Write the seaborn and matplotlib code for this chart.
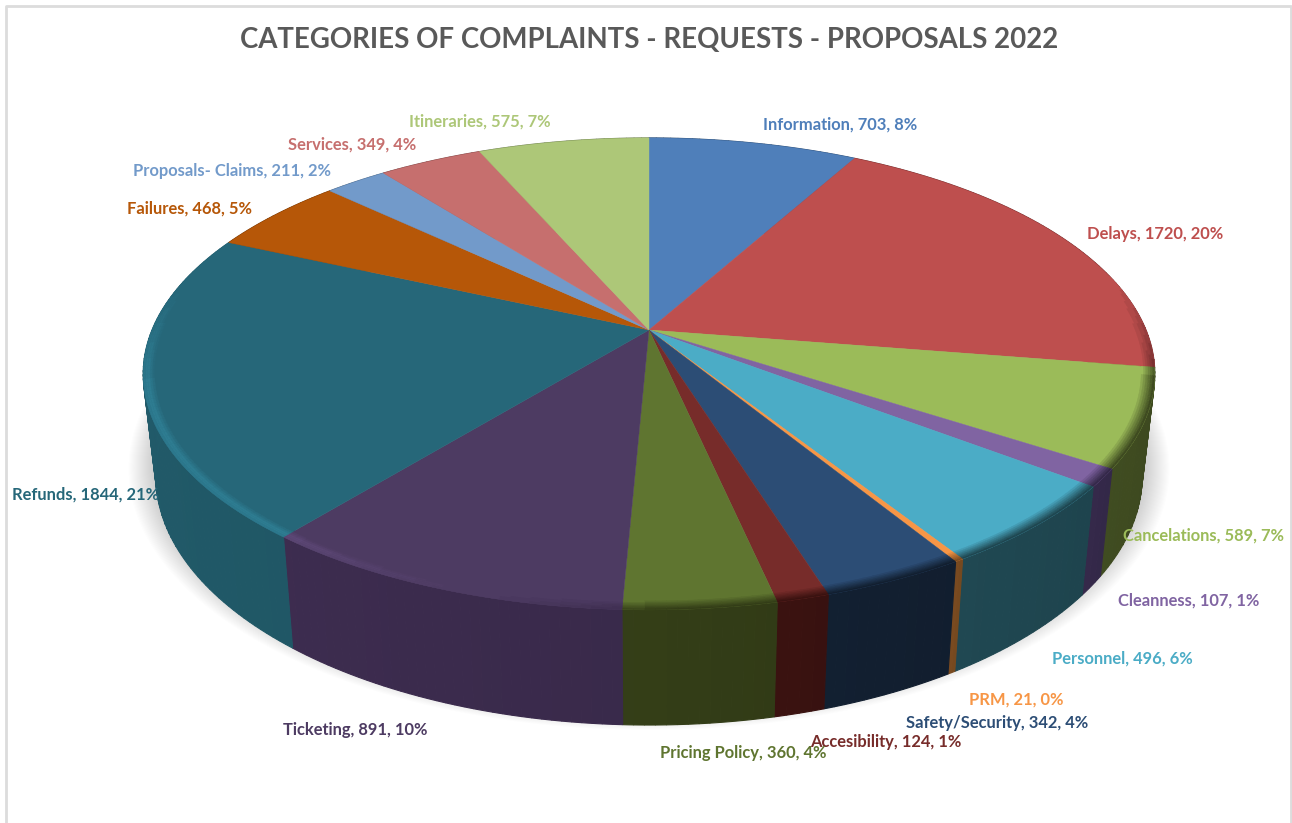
import numpy as np
import matplotlib
matplotlib.use('Agg')
import matplotlib.pyplot as plt
import seaborn as sns

categories = ['Information', 'Delays', 'Cancelations', 'Cleanness', 'Personnel', 'PRM',
              'Safety/Security', 'Accesibility', 'Pricing Policy', 'Ticketing', 'Refunds',
              'Failures', 'Proposals- Claims', 'Services', 'Itineraries']
values = [703, 1720, 589, 107, 496, 21, 342, 124, 360, 891, 1844, 468, 211, 349, 575]
top_colors = ['#4f7fba', '#be4f4e', '#9bbb59', '#8064a2', '#4bacc6', '#f79646', '#2c4d75', '#772c2a',
              '#5f7530', '#4d3b62', '#266779', '#b65708', '#729aca', '#c66f6e', '#adc778']
wall_colors = ['#2c4a6e', '#6b2a2a', '#3e4a20', '#35294a', '#1f4650', '#7a4b20', '#121f30', '#3a1210',
               '#333d17', '#3b2b4d', '#215a69', '#6b3305', '#44607f', '#754040', '#66764a']
title = 'CATEGORIES OF COMPLAINTS - REQUESTS - PROPOSALS 2022'

# left edge and middle height of each label, in picture pixels
label_x = [763, 1087, 1123, 1118, 1052, 969, 906, 810, 660, 283, 12, 127, 133, 288, 409]
label_y = [125, 234, 536, 601, 659, 700, 723, 742, 753, 730, 495, 209, 171, 145, 122]

sns.set_theme(style='white')
plt.rcParams['font.family'] = ['Lato', 'DejaVu Sans']

# perspective of the tilted disc
cx, cy = 649, 330
a, b, p = 497, 227.8, 0.186
depth = 102


def project(theta, r=1.0, h=0.0):
    u = r * np.sin(theta)
    v = r * np.cos(theta)
    w = 1 + p * v
    # lower levels sit further from the viewer and shrink a little
    s = 1 - 0.025 * h / depth
    return cx + s * a * u / w, cy + s * (h - b * v) / w


fig, ax = plt.subplots(figsize=(12.92, 8.23), dpi=100)
ax.set_position([0, 0, 1, 1])
ax.set_xlim(0, 1292)
ax.set_ylim(823, 0)
ax.axis('off')

# chart frame, open at the bottom
ax.plot([6, 6, 1291, 1291], [823, 6, 6, 823], color='#dcdcdc', lw=2, zorder=1)

# soft shadow under the disc
ring = np.linspace(0, 2 * np.pi, 360)
for s in np.linspace(1.05, 1.0, 26):
    sx, sy = project(ring, r=s, h=depth - 12)
    ax.fill(sx, sy, color='#555555', alpha=0.012, lw=0, zorder=2)

edges = np.cumsum([0] + values) / sum(values) * 2 * np.pi

# side wall
for i in range(len(values)):
    steps = np.linspace(edges[i], edges[i + 1], max(3, int((edges[i + 1] - edges[i]) * 60)))
    for j in range(len(steps) - 1):
        t = np.linspace(steps[j], steps[j + 1], 3)
        x0, y0 = project(t)
        x1, y1 = project(t, h=depth)
        shade = 0.97 + 0.06 * j / len(steps)
        col = np.clip(np.array(matplotlib.colors.to_rgb(wall_colors[i])) * shade, 0, 1)
        ax.fill(np.r_[x0, x1[::-1]], np.r_[y0, y1[::-1]], color=col, lw=0.8, ec=col, zorder=3)

# top of the disc, one slice per category
for i in range(len(values)):
    t = np.linspace(edges[i], edges[i + 1], 80)
    x, y = project(t)
    ax.fill(np.r_[cx, x], np.r_[cy, y], color=top_colors[i], lw=0.3, ec=top_colors[i], zorder=4)

# bevel along the rim: light on the left, dark towards the front and the right
radii = np.linspace(0.974, 1.0, 7)
for i in range(len(values)):
    steps = np.linspace(edges[i], edges[i + 1], max(3, int((edges[i + 1] - edges[i]) * 60)))
    base = np.array(matplotlib.colors.to_rgb(top_colors[i]))
    for j in range(len(steps) - 1):
        mid = (steps[j] + steps[j + 1]) / 2
        u, v = np.sin(mid), np.cos(mid)
        if v > 0.25:
            continue
        fade = min(1, (0.25 - v) / 0.45)
        if u < -0.3:
            lift = min(1, (-u - 0.3) / 0.3) * fade
            bright = np.clip(base * 1.2, 0, 1)
            rim = sns.blend_palette([base, bright], n_colors=7)
            rim = [rim[int(k * lift)] for k in (0, 2, 4, 6, 6, 5)]
        else:
            dark = min(1, (u + 0.3) / 0.3) * fade
            mix = sns.blend_palette([top_colors[i], wall_colors[i]], n_colors=7)
            rim = [mix[int(k * dark)] for k in range(1, 7)]
        t = np.linspace(steps[j], steps[j + 1], 3)
        for k in range(6):
            x0, y0 = project(t, r=radii[k])
            x1, y1 = project(t, r=radii[k + 1])
            ax.fill(np.r_[x0, x1[::-1]], np.r_[y0, y1[::-1]], color=rim[k], lw=0.3, ec=rim[k], zorder=5)

# data labels
total = sum(values)
for name, val, col, lx, ly in zip(categories, values, top_colors, label_x, label_y):
    ax.text(lx, ly, f'{name}, {val}, {val / total * 100:.0f}%', color=col, fontsize=11.9,
            fontweight='bold', ha='left', va='center', zorder=8)

ax.text(649, 40, title, color='#595959', fontsize=19.9, fontweight='bold', ha='center', va='center', zorder=8)

fig.savefig('out.png', dpi=100, facecolor='white')
